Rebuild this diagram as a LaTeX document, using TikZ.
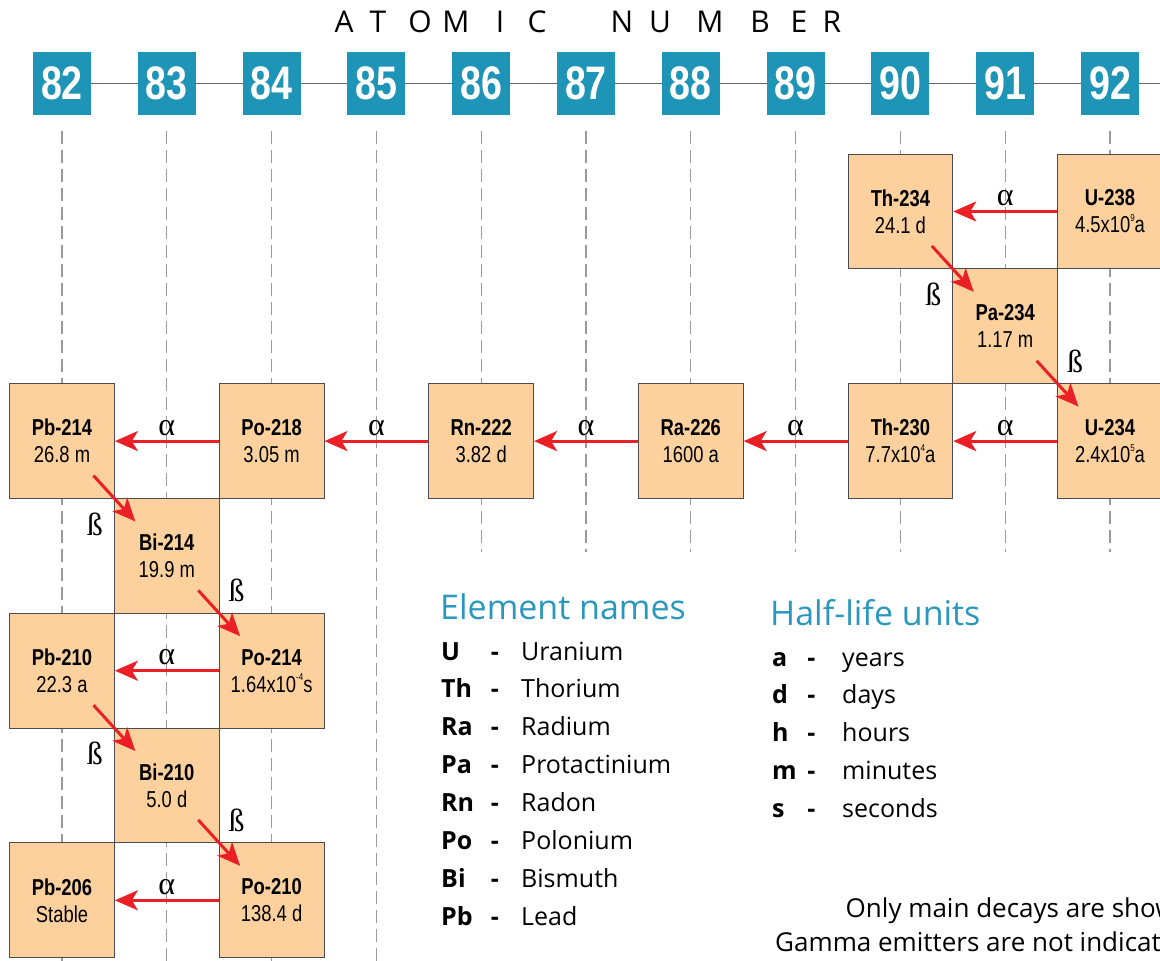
\documentclass[tikz,border=0pt]{standalone}
\usepackage{fontspec}
\setmainfont{Open Sans}
\newfontfamily\condfont[FakeStretch=0.8]{Liberation Sans}
\newfontfamily\greekfont{Liberation Serif}
\usetikzlibrary{arrows.meta,calc}
\definecolor{zteal}{HTML}{1E94B6}
\definecolor{tteal}{HTML}{2A98BE}
\definecolor{boxfill}{HTML}{FCD19E}
\definecolor{decayred}{HTML}{EB2027}
\definecolor{gridgray}{HTML}{9A9A9A}
\newcommand\expo[1]{\raisebox{0.5em}{\fontsize{10}{10}\selectfont #1}}
\begin{document}
\begin{tikzpicture}[x=1pt,y=-1pt,
  znum/.style={fill=zteal, text=white, minimum width=58pt, minimum height=63pt, inner sep=0pt,
    font=\condfont\bfseries\fontsize{47}{47}\selectfont},
  nuc/.style={draw=black!70, line width=0.9pt, fill=boxfill, minimum width=104.8pt,
    minimum height=114.8pt, inner sep=0pt, align=center,
    font=\condfont\fontsize{23}{27}\selectfont},
  gridline/.style={gridgray, line width=1.3pt, dash pattern=on 13pt off 6pt},
  axisline/.style={black!60, line width=1.5pt},
  decay/.style={decayred, line width=3pt, -{Stealth[length=23pt,width=20pt,inset=6pt]}},
  alab/.style={font=\greekfont\fontsize{32}{32}\selectfont, text=black, inner sep=0pt, anchor=base, yshift=6pt},
  blab/.style={font=\greekfont\fontsize{32}{32}\selectfont, text=black, inner sep=0pt},
  ttl/.style={font=\fontsize{30}{30}\selectfont, inner sep=0pt, anchor=base},
  legtitle/.style={font=\fontsize{34}{40}\selectfont, text=tteal, inner sep=0pt, anchor=base west},
  leg/.style={font=\fontsize{25}{30}\selectfont, inner sep=0pt, anchor=base west},
  note/.style={font=\fontsize{26}{30}\selectfont, inner sep=0pt, anchor=base west},
  legb/.style={font=\bfseries\fontsize{25}{30}\selectfont, inner sep=0pt, anchor=base west},
  legd/.style={font=\bfseries\fontsize{25}{30}\selectfont, inner sep=0pt, anchor=base},
]
\useasboundingbox[fill=white] (0,0) rectangle (1160,961);

% title letters
\foreach \ch/\xx [count=\i] in {A/344,T/378,O/420,M/456,I/500,C/537,N/622,U/660,M/710,B/760,E/799,R/832}
  \node[ttl] (lt\i) at (\xx,32) {\ch};

% grid lines
\foreach \xx in {62,166.8,271.6,376.4}
  \draw[gridline] (\xx,131) -- (\xx,961);
\foreach \xx in {481.2,586,690.8,795.6,900.4,1005.2,1110}
  \draw[gridline] (\xx,131) -- (\xx,552);

% axis line and atomic numbers
\draw[axisline] (62,83.3) -- (1160,83.3);
\foreach \n/\xx in {82/62,83/166.8,84/271.6,85/376.4,86/481.2,87/586,88/690.8,89/795.6,90/900.4,91/1005.2,92/1110}
  \node[znum] (z\n) at (\xx,83.3) {\n};

% nuclides
\node[nuc] (u238)  at (1110,211.5)  {\textbf{U-238}\\4.5x10\expo{9}a};
\node[nuc] (th234) at (900.4,211.5) {\textbf{Th-234}\\24.1 d};
\node[nuc] (pa234) at (1005.2,326.3){\textbf{Pa-234}\\1.17 m};
\node[nuc] (u234)  at (1110,441.1)  {\textbf{U-234}\\2.4x10\expo{5}a};
\node[nuc] (th230) at (900.4,441.1) {\textbf{Th-230}\\7.7x10\expo{4}a};
\node[nuc] (ra226) at (690.8,441.1) {\textbf{Ra-226}\\1600 a};
\node[nuc] (rn222) at (481.2,441.1) {\textbf{Rn-222}\\3.82 d};
\node[nuc] (po218) at (271.6,441.1) {\textbf{Po-218}\\3.05 m};
\node[nuc] (pb214) at (62,441.1)    {\textbf{Pb-214}\\26.8 m};
\node[nuc] (bi214) at (166.8,555.9) {\textbf{Bi-214}\\19.9 m};
\node[nuc] (po214) at (271.6,670.7) {\textbf{Po-214}\\1.64x10\expo{-4}s};
\node[nuc] (pb210) at (62,670.7)    {\textbf{Pb-210}\\22.3 a};
\node[nuc] (bi210) at (166.8,785.5) {\textbf{Bi-210}\\5.0 d};
\node[nuc] (po210) at (271.6,900.3) {\textbf{Po-210}\\138.4 d};
\node[nuc] (pb206) at (62,900.3)    {\textbf{Pb-206}\\Stable};

% alpha decays
\foreach \a/\b in {u238/th234,u234/th230,th230/ra226,ra226/rn222,rn222/po218,po218/pb214,po214/pb210,po210/pb206}
  \draw[decay] (\a.west) -- (\b.east) node[alab, midway] {α};

% beta decays
\foreach \a/\b in {th234/pa234,pa234/u234,pb214/bi214,bi214/po214,pb210/bi210,bi210/po210}
  \draw[decay] ($(\a.center)!0.3!(\b.center)$) -- ($(\a.center)!0.7!(\b.center)$);
\foreach \a in {th234,pb214,pb210}
  \node[blab] (bl\a) at ($(\a.south east)+(-20,25)$) {ß};
\foreach \a in {pa234,bi214,bi210}
  \node[blab] (bl\a) at ($(\a.south east)+(17,-23)$) {ß};

% legend: element names
\node[legtitle] (eltitle) at (440,619) {Element names};
\foreach \s/\nm [count=\i] in {U/Uranium,Th/Thorium,Ra/Radium,Pa/Protactinium,Rn/Radon,Po/Polonium,Bi/Bismuth,Pb/Lead}{
  \node[legb] (es\i) at (441,{660+37.9*(\i-1)}) {\s};
  \node[legd] (ed\i) at (495,{660+37.9*(\i-1)}) {-};
  \node[leg]  (en\i) at (521,{660+37.9*(\i-1)}) {\nm};
}

% legend: half-life units
\node[legtitle] (hltitle) at (770,625) {Half-life units};
\foreach \s/\nm [count=\i] in {a/years,d/days,h/hours,m/minutes,s/seconds}{
  \node[legb] (hs\i) at (772,{666+37.8*(\i-1)}) {\s};
  \node[legd] (hd\i) at (811.5,{666+37.8*(\i-1)}) {-};
  \node[leg]  (hn\i) at (842,{666+37.8*(\i-1)}) {\nm};
}

% notes (cut off at the right edge, as in the reference)
\node[note] (note1) at (845.5,917) {Only main decays are shown.};
\node[note] (note2) at (775,951) {Gamma emitters are not indicated.};
\end{tikzpicture}
\end{document}
